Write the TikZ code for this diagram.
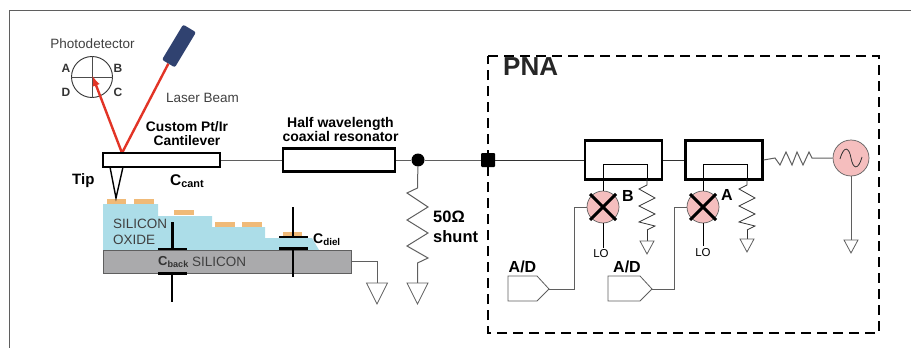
\documentclass[tikz,border=0pt]{standalone}
\usepackage{fontspec}
\setmainfont{Liberation Sans}
\usepackage{xcolor}
\usepackage{tikz}
\usetikzlibrary{calc}
\usetikzlibrary{positioning}
\definecolor{beam}{RGB}{226,52,38}
\definecolor{oxide}{RGB}{172,221,232}
\definecolor{bulk}{RGB}{170,170,172}
\definecolor{pad}{RGB}{240,186,120}
\definecolor{mix}{RGB}{245,190,190}
\definecolor{wire}{RGB}{95,95,95}
\definecolor{laser}{RGB}{48,66,112}
\tikzset{
	boxb/.style={draw=black,line width=2.2pt,fill=white,inner sep=0pt},
	wirel/.style={draw=wire,line width=1pt},
	thinl/.style={draw=black!80,line width=0.8pt},
	capl/.style={draw=black,line width=2.8pt},
	gnd/.style={draw=wire,fill=white,line width=0.8pt},
	txt/.style={inner sep=0pt,font=\fontsize{11.5}{13}\selectfont},
	txtb/.style={inner sep=0pt,align=center,font=\fontsize{14}{13.5}\selectfont\bfseries},
	txtc/.style={inner sep=0pt,anchor=west,font=\fontsize{15.5}{16}\selectfont\bfseries},
	txtl/.style={inner sep=0pt,font=\fontsize{16}{17}\selectfont\bfseries},
	txts/.style={inner sep=0pt,font=\fontsize{13.5}{16}\selectfont,text=black!75},
	pdl/.style={inner sep=0pt,font=\fontsize{12}{13}\selectfont\bfseries,text=black!80},
	mixer/.style={circle,draw=wire,fill=mix,minimum size=32pt,inner sep=0pt,line width=0.7pt},
	coupler/.style={draw=black,line width=2.2pt,inner sep=0pt,minimum width=77pt,minimum height=39pt},
	adc/.style={draw=wire,line width=0.8pt,fill=white}
}
\newcommand{\gndsym}[1]{\draw[gnd] ($(#1)+(-10.5,0)$) -- ($(#1)+(10.5,0)$) -- ($(#1)+(0,21)$) -- cycle;}
\newcommand{\gndsmall}[1]{\draw[gnd] ($(#1)+(-7,0)$) -- ($(#1)+(7,0)$) -- ($(#1)+(0,13)$) -- cycle;}
\newcommand{\armres}[1]{\draw[thinl] (#1,179) -- (#1,185) -- (#1-8,189) -- (#1+8,198) -- (#1-8,206) -- (#1+8,214) -- (#1-8,222) -- (#1+8,226) -- (#1,230);}
\begin{document}
\begin{tikzpicture}[x=1pt,y=-1pt]
	\useasboundingbox (0,0) rectangle (911,348);
	\draw[wire,line width=1pt] (9,348) -- (9,10) -- (911,10);

	% sample
	\fill[oxide] (103,250) -- (103,204) -- (158,204) -- (158,216) -- (212,216) -- (212,227) -- (265,227) -- (265,238) -- (312,238) -- (319,250) -- cycle;
	\foreach \xa/\xb/\ya in {107/126/199,134/154/199,174/194/210,215/235/222,242/262/222,283/302/232}
		\fill[pad] (\xa,\ya) rectangle (\xb,\ya+5);
	\node[draw=wire,fill=bulk,line width=0.8pt,minimum width=248pt,minimum height=23pt,inner sep=0pt] (substrate) at (227,261.5) {};
	\node[txts,align=left,anchor=west] (oxidelabel) at (113,232) {SILICON\\OXIDE};
	\node[txts,anchor=west] (silabel) at (192,262) {SILICON};

	% capacitors
	\draw[capl] (172.5,222) -- (172.5,249);
	\draw[capl] (158,249) -- (187,249);
	\draw[capl] (158,273.5) -- (187,273.5);
	\draw[capl] (172,273.5) -- (172,302);
	\draw[capl] (293,207) -- (293,237);
	\draw[capl] (279,237) -- (308,237);
	\draw[capl] (279,248.5) -- (308,248.5);
	\draw[capl] (293,248.5) -- (293,277);
	\node[txtc,font=\fontsize{13}{14}\selectfont\bfseries,text=black!80] (cback) at (158,262) {C\textsubscript{back}};
	\node[txtc,font=\fontsize{14}{14}\selectfont\bfseries] (cdiel) at (313,240) {C\textsubscript{diel}};

	% photodetector and laser
	\node[txts] (pdlabel) at (92.5,44) {Photodetector};
	\node[circle,draw=black!80,line width=0.9pt,minimum size=41pt,inner sep=0pt] (pd) at (92,77) {};
	\draw[black!70,line width=0.8pt] (pd.north) -- (pd.south) (pd.west) -- (pd.east);
	\node[pdl] at (66,68) {A};
	\node[pdl] at (118,68) {B};
	\node[pdl] at (66,92) {D};
	\node[pdl] at (118,92) {C};
	\node[fill=laser,rounded corners=2pt,rotate=59,minimum width=41pt,minimum height=15pt,inner sep=0pt] (laser) at (179,46) {};
	\node[txts] (laserlabel) at (202.5,98) {Laser Beam};
	\coordinate (hit) at (122,153);
	\draw[beam,line width=2.4pt] (laser.west) -- (hit);
	\draw[beam,line width=2.4pt,-latex] (hit) -- (92.5,76);
	\node[txtb,font=\fontsize{13.8}{13.5}\selectfont\bfseries] (canttext) at (187,133.5) {Custom Pt/Ir\\Cantilever};

	% cantilever, tip
	\node[boxb,minimum width=117pt,minimum height=14pt] (cant) at (161.5,160) {};
	\draw[black,line width=1.4pt] (110,167) -- (116,198) -- (123,167);
	\node[txtc,font=\fontsize{15}{16}\selectfont\bfseries] (tip) at (72,181) {Tip};
	\node[txtc] (ccant) at (170,181) {C\textsubscript{cant}};

	% resonator and line
	\node[boxb,minimum width=112pt,minimum height=23pt] (reso) at (339,160) {};
	\node[txtb] (resolabel) at (340.5,129.5) {Half wavelength\\coaxial resonator};
	\node[circle,fill=black,minimum size=13pt,inner sep=0pt] (junction) at (418,160) {};
	\node[rectangle,rounded corners=1pt,fill=black,minimum size=14pt,inner sep=0pt] (port) at (488,160) {};
	\draw[wirel] (cant) -- (reso);
	\draw[wirel] (reso) -- (junction);
	\draw[wirel] (junction) -- (port);

	% shunt
	\coordinate (gndb) at (417.5,283);
	\draw[wirel] (junction) -- (417.5,188) -- (407,193) -- (428,207) -- (407,220) -- (428,233) -- (407,246) -- (428,258) -- (417.5,263) -- (gndb);
	\gndsym{gndb}
	\node[txtl,anchor=west,font=\fontsize{16.5}{17}\selectfont\bfseries] (shunttop) at (433,217) {50Ω};
	\node[txtl,anchor=west,font=\fontsize{16.5}{17}\selectfont\bfseries] (shuntbot) at (433,237) {shunt};

	% sample ground
	\coordinate (gnda) at (377,283);
	\draw[wirel] (substrate.east) -- (377,261.5) -- (gnda);
	\gndsym{gnda}

	% PNA
	\draw[black,line width=2.4pt,dash pattern=on 10pt off 6pt] (488,56) -- (879,56) -- (879,333) -- (488,333) -- cycle;
	\node[inner sep=0pt,font=\fontsize{26}{28}\selectfont\bfseries,anchor=west,text=black!85] (pna) at (503,67) {PNA};

	% couplers
	\node[coupler] (couplerb) at (623.5,160) {};
	\node[coupler] (couplera) at (724,160) {};
	\node[mixer] (mixb) at (603,207) {};
	\node[mixer] (mixa) at (703,207) {};
	\foreach \m in {mixb,mixa} {
		\draw[black,line width=3pt] ($(\m)+(-13,-13)$) -- ($(\m)+(13,13)$);
		\draw[black,line width=3pt] ($(\m)+(-13,13)$) -- ($(\m)+(13,-13)$);
	}
	\node[txtl] (labelb) at (628,196) {B};
	\node[txtl] (labela) at (727,195) {A};

	% coupled arms
	\draw[black,line width=0.7pt] (mixb.north) -- (603,164) -- (647,164) -- (647,179);
	\draw[black,line width=0.7pt] (mixa.north) -- (703,164) -- (747,164) -- (747,179);
	\armres{647}
	\armres{747}
	\coordinate (gndc) at (647,241);
	\coordinate (gndd) at (747,239);
	\draw[thinl] (647,230) -- (gndc);
	\draw[thinl] (747,230) -- (gndd);
	\gndsmall{gndc}
	\gndsmall{gndd}

	% LO
	\node[txt] (lob) at (601,254) {LO};
	\node[txt] (loa) at (703,253) {LO};
	\draw[black,line width=0.7pt] (mixb.south) -- (603,248);
	\draw[black,line width=0.7pt] (mixa.south) -- (703,246);

	% converters
	\draw[adc] (508,276) -- (537,276) -- (549,289) -- (537,301) -- (508,301) -- cycle;
	\draw[adc] (608,276) -- (640,276) -- (652,289) -- (640,301) -- (608,301) -- cycle;
	\coordinate (adb) at (549,289);
	\coordinate (ada) at (652,289);
	\node[txtl] (adlabelb) at (522.5,267) {A/D};
	\node[txtl] (adlabela) at (627,267) {A/D};
	\draw[wirel] (adb) -- (574,289) -- (574,207) -- (mixb.west);
	\draw[wirel] (ada) -- (674,289) -- (674,207) -- (mixa.west);

	% source
	\node[circle,draw=wire,fill=mix,minimum size=36pt,inner sep=0pt,line width=0.7pt] (source) at (851,158) {};
	\draw[black!80,line width=0.8pt] ($(source)+(-11,1)$) .. controls ($(source)+(-7,-13)$) and ($(source)+(-2,-11)$) .. (source.center) .. controls ($(source)+(2,11)$) and ($(source)+(7,13)$) .. ($(source)+(11,-1)$);
	\draw[thinl] (port) -- (couplerb);
	\draw[thinl] (couplerb) -- (couplera);
	\coordinate (gnde) at (851,240);
	\draw[wirel] (couplera.east) -- (775,158) -- (780,165) -- (786,152) -- (792,165) -- (797,152) -- (803,165) -- (809,152) -- (812,158) -- (source);
	\draw[wirel] (source) -- (gnde);
	\gndsmall{gnde}
\end{tikzpicture}
\end{document}
